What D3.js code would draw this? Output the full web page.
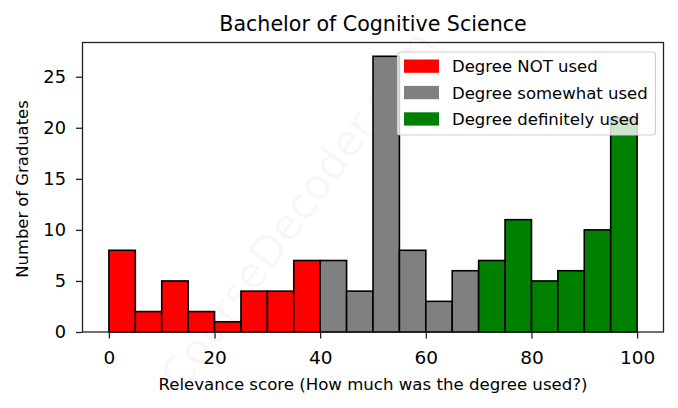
<!DOCTYPE html>
<html><head><meta charset="utf-8">
<script src="https://cdn.jsdelivr.net/npm/d3@7"></script>
<style>body{margin:0;background:#fff}svg{display:block;font-family:"DejaVu Sans",sans-serif}</style>
</head><body><svg id="c" width="678" height="408"></svg>
<script>
const binStarts = [0,5,10,15,20,25,30,35,40,45,50,55,60,65,70,75,80,85,90,95];
const counts    = [8,2,5,2,1,4,4,7,7,4,27,8,3,6,7,11,5,6,10,21];
const groups    = ["not","not","not","not","not","not","not","not","some","some","some","some","some","some","def","def","def","def","def","def"];
const binWidth = 5;
const legendLabels = ["Degree NOT used","Degree somewhat used","Degree definitely used"];
const legendKeys = ["not","some","def"];
const colors = {not:"#ff0000", some:"#808080", def:"#008000"};
const xTicks = [0,20,40,60,80,100];
const yTicks = [0,5,10,15,20,25];

const svg = d3.select("#c");
const L=82.5, R=663.5, T=42.5, B=332;
const x = d3.scaleLinear().domain([-5,105]).range([L,R]);
const y = d3.scaleLinear().domain([0,28.35]).range([B,T]);

// watermark
svg.append("text").attr("transform","translate(300,212) rotate(-54)")
  .attr("text-anchor","middle").attr("dominant-baseline","middle")
  .attr("font-size",43).attr("fill","#000").attr("fill-opacity",0.045)
  .text("CourseDecoder.com");

svg.append("g").selectAll("rect").data(counts).join("rect")
  .attr("x",(d,i)=>x(binStarts[i]))
  .attr("width",(d,i)=>x(binStarts[i]+binWidth)-x(binStarts[i]))
  .attr("y",d=>y(d)).attr("height",d=>y(0)-y(d))
  .attr("fill",(d,i)=>colors[groups[i]]).attr("stroke","#000").attr("stroke-width",1.6);

// frame
svg.append("rect").attr("x",L).attr("y",T).attr("width",R-L).attr("height",B-T)
  .attr("fill","none").attr("stroke","#222").attr("stroke-width",1.3);

const xa = svg.append("g").attr("transform",`translate(0,${B})`)
  .call(d3.axisBottom(x).tickValues(xTicks).tickSize(6.5));
xa.selectAll("text").attr("y",31.5).attr("dy",0).attr("font-size",18.5);
const ya = svg.append("g").attr("transform",`translate(${L},0)`)
  .call(d3.axisLeft(y).tickValues(yTicks).tickSize(6.5).tickPadding(10));
ya.selectAll("text").attr("font-size",17.8);
[xa,ya].forEach(a=>{a.select(".domain").remove();
  a.selectAll("text").attr("fill","#000").attr("font-family","DejaVu Sans");
  a.selectAll("line").attr("stroke","#222").attr("stroke-width",1.3);});

svg.append("text").attr("x",(L+R)/2).attr("y",31).attr("text-anchor","middle")
  .attr("font-size",20.6).text("Bachelor of Cognitive Science");
svg.append("text").attr("x",(L+R)/2).attr("y",390).attr("text-anchor","middle")
  .attr("font-size",16.6).text("Relevance score (How much was the degree used?)");
svg.append("text").attr("transform",`translate(28,189) rotate(-90)`).attr("text-anchor","middle")
  .attr("font-size",16.4).text("Number of Graduates");

// legend
const lg = svg.append("g");
lg.append("rect").attr("x",397.5).attr("y",52).attr("width",258).attr("height",83).attr("rx",3)
  .attr("fill","#fff").attr("fill-opacity",0.8).attr("stroke","#d0d0d0").attr("stroke-width",1.2);
legendKeys.forEach((k,i)=>{
  const yy = 59.5 + i*26.4;
  lg.append("rect").attr("x",404).attr("y",yy).attr("width",35).attr("height",13.3).attr("fill",colors[k]);
  lg.append("text").attr("x",452).attr("y",yy+12.8).attr("font-size",16.5).text(legendLabels[i]);
});
</script></body></html>
